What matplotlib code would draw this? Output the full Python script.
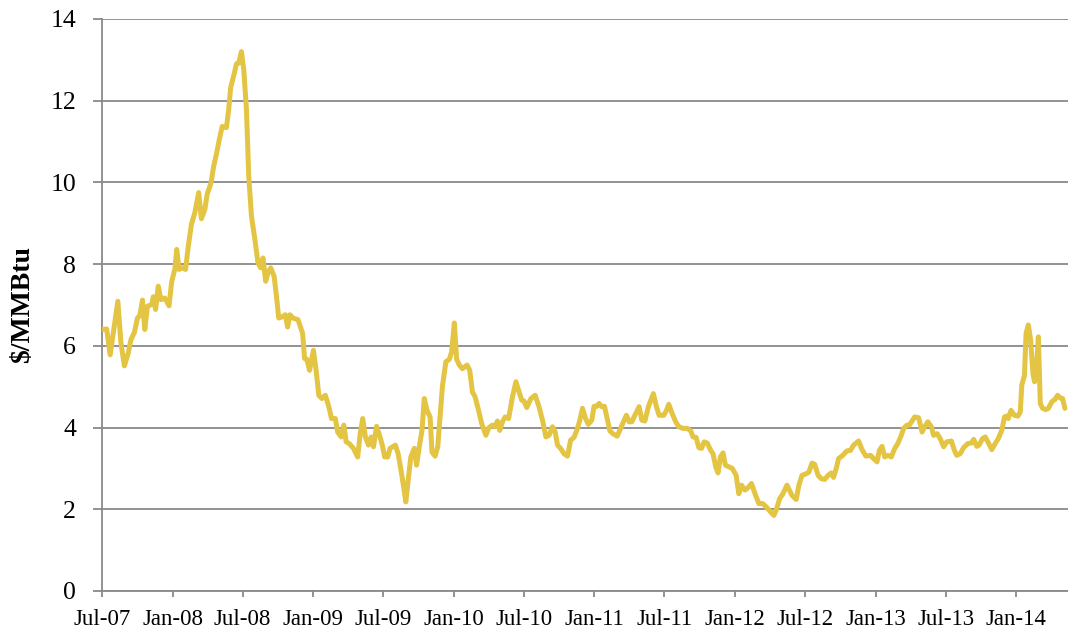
import pandas as pd
import matplotlib
matplotlib.use("Agg")
import matplotlib.pyplot as plt
import matplotlib.dates as mdates

# weekly Henry Hub style spot price
# days counted from 1 Jul 2007
days = [0, 13, 22, 30, 42, 50, 59, 69, 76, 85, 93, 99, 106, 112, 119, 130, 134, 140, 147, 154,
        164, 175, 182, 190, 195, 201, 209, 218, 225, 233, 242, 252, 259, 268, 274, 284, 291, 298, 305, 313,
        324, 330, 335, 344, 350, 356, 363, 369, 376, 382, 389, 398, 406, 413, 419, 426, 432, 439, 448, 454,
        460, 471, 477, 483, 489, 497, 510,
        522, 527, 533, 540, 550, 557, 564, 572, 581, 590, 597, 607, 613, 622, 629, 635, 643, 654, 665, 671,
        678, 685, 693, 700, 706, 714, 723, 730, 735, 743, 749, 756, 763, 770, 776, 783, 790, 797, 803, 812,
        818, 825, 832, 838, 845, 853, 858, 866, 873, 879, 885, 894, 903, 909, 916, 922, 929, 937, 949, 956,
        963, 970, 979, 987, 998, 1006, 1015, 1022, 1028, 1034, 1041, 1048, 1057, 1067, 1076, 1083, 1091, 1097,
        1104, 1115, 1126,
        1136, 1145, 1154, 1162, 1171, 1178, 1184, 1192, 1201, 1210, 1218, 1227, 1236, 1242, 1249, 1257, 1264,
        1273, 1279, 1286, 1292, 1299, 1306, 1314, 1320, 1328, 1339, 1348, 1357, 1363, 1370, 1377, 1385, 1396,
        1403, 1411, 1420, 1433, 1441, 1448, 1460, 1467, 1473, 1482, 1491, 1499, 1510, 1521, 1530, 1536, 1544,
        1551, 1558, 1565, 1573, 1582, 1588, 1595, 1601, 1607, 1614, 1620, 1629, 1638, 1648, 1655, 1662, 1671,
        1679, 1688, 1697, 1707, 1717, 1726, 1737, 1746, 1752, 1761, 1769, 1780,
        1793, 1804, 1811, 1819, 1830, 1837, 1845, 1852, 1861, 1869, 1878, 1887, 1895, 1901, 1908, 1914, 1925,
        1936, 1945, 1953, 1966, 1975, 1985, 1997, 2005, 2014, 2020, 2027, 2034, 2042, 2051, 2060, 2068, 2077,
        2083, 2092, 2098, 2105, 2112, 2122, 2131, 2138, 2146, 2155, 2161, 2170, 2178, 2187, 2195, 2207, 2215,
        2221, 2230, 2239, 2250, 2259, 2265, 2273, 2279, 2288, 2295, 2304, 2312, 2321, 2329, 2338, 2345, 2351,
        2355, 2362, 2371, 2380, 2386, 2390, 2397, 2401, 2407, 2413, 2419, 2423, 2427, 2433, 2438, 2444, 2452,
        2459, 2468, 2476, 2483, 2489, 2496, 2502]

price = [6.40, 6.41, 5.78, 6.31, 7.09, 6.07, 5.51, 5.82, 6.15, 6.33, 6.68, 6.74, 7.12, 6.40, 6.97, 7.01, 7.20, 6.89, 7.46, 7.13,
         7.17, 6.98, 7.58, 7.87, 8.36, 7.87, 7.91, 7.87, 8.44, 8.97, 9.26, 9.75, 9.11, 9.34, 9.71, 9.99, 10.40, 10.69, 11.02, 11.37,
         11.34, 11.79, 12.32, 12.65, 12.90, 12.92, 13.20, 12.77, 11.79, 10.16, 9.18, 8.60, 8.03, 7.91, 8.15, 7.58, 7.79, 7.91, 7.70, 7.21,
         6.68, 6.72, 6.76, 6.46, 6.76, 6.68, 6.64,
         6.30, 5.69, 5.67, 5.40, 5.89, 5.40, 4.79, 4.71, 4.79, 4.51, 4.22, 4.22, 3.89, 3.77, 4.06, 3.65, 3.61, 3.49, 3.28, 3.81,
         4.22, 3.77, 3.57, 3.77, 3.53, 4.03, 3.77, 3.53, 3.28, 3.28, 3.49, 3.53, 3.57, 3.36, 3.04, 2.63, 2.18, 2.79, 3.28, 3.49,
         3.08, 3.53, 3.93, 4.71, 4.42, 4.26, 3.40, 3.30, 3.53, 4.26, 5.00, 5.61, 5.67, 5.85, 6.56, 5.67, 5.53, 5.44, 5.53, 5.40,
         4.87, 4.75, 4.42, 4.10, 3.81, 4.00, 4.06, 4.02, 4.16, 3.93, 4.14, 4.26, 4.22, 4.75, 5.12, 4.91, 4.67, 4.65,
         4.49, 4.71, 4.79,
         4.51, 4.18, 3.77, 3.81, 4.02, 3.89, 3.57, 3.49, 3.36, 3.30, 3.69, 3.76, 3.98, 4.18, 4.47, 4.22, 4.08,
         4.18, 4.52, 4.52, 4.59, 4.51, 4.52, 4.18, 3.92, 3.85, 3.79, 3.98, 4.18, 4.30, 4.14, 4.14, 4.30, 4.51,
         4.18, 4.16, 4.51, 4.83, 4.51, 4.30, 4.30, 4.42, 4.57, 4.34, 4.14, 4.02, 3.98, 3.98, 3.92, 3.77, 3.76,
         3.51, 3.49, 3.65, 3.62, 3.44, 3.36, 3.04, 2.89, 3.28, 3.38, 3.08, 3.04, 3.00, 2.83, 2.38, 2.59, 2.47,
         2.53, 2.63, 2.38, 2.14, 2.14, 2.06, 1.94, 1.85, 1.98, 2.26, 2.37, 2.59,
         2.34, 2.24, 2.59, 2.83, 2.87, 2.91, 3.13, 3.10, 2.83, 2.75, 2.73, 2.83, 2.89, 2.78, 3.00, 3.24, 3.32,
         3.43, 3.44, 3.57, 3.67, 3.46, 3.30, 3.32, 3.24, 3.16, 3.44, 3.54, 3.28, 3.32, 3.28, 3.49, 3.61, 3.81,
         3.98, 4.06, 4.06, 4.16, 4.26, 4.24, 3.89, 4.02, 4.14, 4.02, 3.81, 3.85, 3.73, 3.53, 3.65, 3.67, 3.44,
         3.32, 3.36, 3.51, 3.61, 3.62, 3.71, 3.54, 3.57, 3.73, 3.77, 3.61, 3.46, 3.61, 3.73, 3.93, 4.26, 4.28,
         4.22, 4.42, 4.30, 4.28, 4.38, 5.04, 5.28, 6.30, 6.51, 6.14, 5.32, 5.12, 5.28, 6.22, 4.59, 4.47, 4.44,
         4.47, 4.63, 4.69, 4.79, 4.73, 4.71, 4.47]

start = pd.Timestamp("2007-07-01")
dates = start + pd.to_timedelta(days, unit="D")

plt.rcParams['font.family'] = ['Liberation Serif', 'DejaVu Serif']

fig = plt.figure(figsize=(10.68, 6.32), dpi=100)
ax = fig.add_axes([0.0952, 0.0649, 0.9048, 0.9051])

grid_col = "#898989"
ax.plot(dates, price, color="#E4C443", lw=3.6, solid_joinstyle="round", solid_capstyle="round", zorder=3)

ax.set_ylim(0, 14)
ax.set_yticks(range(0, 15, 2))
ax.set_xlim(start, start + pd.Timedelta(days=2510))
ax.xaxis.set_major_locator(mdates.MonthLocator(bymonth=[1, 7]))
ax.xaxis.set_major_formatter(mdates.DateFormatter("%b-%y"))

ax.yaxis.grid(True, color=grid_col, lw=1.3)
ax.set_axisbelow(True)
for s in ["top", "right"]:
    ax.spines[s].set_visible(False)
for s in ["left", "bottom"]:
    ax.spines[s].set_color(grid_col)
    ax.spines[s].set_linewidth(1.3)

ax.tick_params(axis="y", length=6.5, width=1.3, color=grid_col, pad=12, labelsize=18.5)
ax.tick_params(axis="x", length=4.3, width=1.3, color=grid_col, pad=9, labelsize=16.5)

ax.set_ylabel("$/MMBtu", fontsize=20, fontweight="bold")
ax.yaxis.set_label_coords(-0.069, 0.5)

fig.savefig("out.png", dpi=100)
